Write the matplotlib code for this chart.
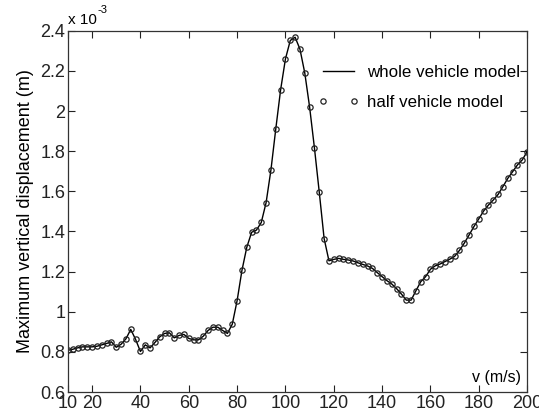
import numpy as np
import matplotlib.pyplot as plt

plt.rcParams['font.family'] = ['Liberation Sans', 'DejaVu Sans']

v = np.arange(10, 201, 2)
disp = np.array([
    0.808, 0.813, 0.820, 0.825, 0.825, 0.825, 0.828, 0.835, 0.842, 0.850,
    0.823, 0.838, 0.865, 0.912, 0.862, 0.802, 0.835, 0.820, 0.847, 0.875,
    0.892, 0.895, 0.870, 0.882, 0.887, 0.867, 0.860, 0.860, 0.878, 0.907,
    0.923, 0.923, 0.907, 0.892, 0.938, 1.055, 1.206, 1.321, 1.396, 1.407,
    1.445, 1.544, 1.707, 1.911, 2.106, 2.260, 2.352, 2.368, 2.309, 2.190,
    2.020, 1.816, 1.595, 1.365, 1.254, 1.261, 1.266, 1.261, 1.258, 1.253,
    1.244, 1.236, 1.228, 1.216, 1.195, 1.175, 1.155, 1.138, 1.115, 1.088,
    1.058, 1.058, 1.105, 1.150, 1.175, 1.212, 1.229, 1.238, 1.250, 1.262,
    1.276, 1.306, 1.342, 1.383, 1.425, 1.463, 1.502, 1.532, 1.557, 1.585,
    1.624, 1.665, 1.698, 1.732, 1.757, 1.798,
]) * 1e-3

xticks = [10, 20, 40, 60, 80, 100, 120, 140, 160, 180, 200]
yticks = np.arange(0.6, 2.41, 0.2)
ytick_labels = ['0.6', '0.8', '1', '1.2', '1.4', '1.6', '1.8', '2', '2.2', '2.4']

fig = plt.figure(figsize=(5.39, 4.19), dpi=100)
ax = fig.add_axes([0.126, 0.0644, 0.852, 0.862])

ax.plot(v, disp * 1e3, '-', color='black', lw=1.0, label='whole vehicle model')
ax.plot(v, disp * 1e3, 'o', mfc='none', mec='#222222', mew=0.9, ms=3.8,
        label='half vehicle model')

ax.set_xlim(10, 200)
ax.set_ylim(0.6, 2.4)
ax.set_xticks(xticks)
ax.set_xticklabels([str(t) for t in xticks])
ax.set_yticks(yticks)
ax.set_yticklabels(ytick_labels)
ax.tick_params(direction='in', length=5, width=0.8, top=True, right=True,
               labelsize=13, pad=2, colors='#222222')
for s in ax.spines.values():
    s.set_color('#333333')
    s.set_linewidth(0.9)

ax.set_ylabel('Maximum vertical displacement (m)', fontsize=13, labelpad=4)
ax.text(0.987, 0.028, 'v (m/s)', transform=ax.transAxes, fontsize=11.5,
        ha='right', va='baseline')

# exponent label above the axes
fig.text(68 / 539, 1 - 24 / 419, 'x 10', fontsize=11, ha='left', va='baseline')
fig.text(97 / 539, 1 - 13 / 419, '-3', fontsize=8, ha='left', va='baseline')

leg = ax.legend(loc='upper right', bbox_to_anchor=(0.985, 0.905), frameon=False,
                fontsize=12.2, handlelength=2.4, numpoints=2, handletextpad=0.5,
                labelspacing=0.85, borderaxespad=0, borderpad=0)

fig.savefig('out.png', dpi=100)
